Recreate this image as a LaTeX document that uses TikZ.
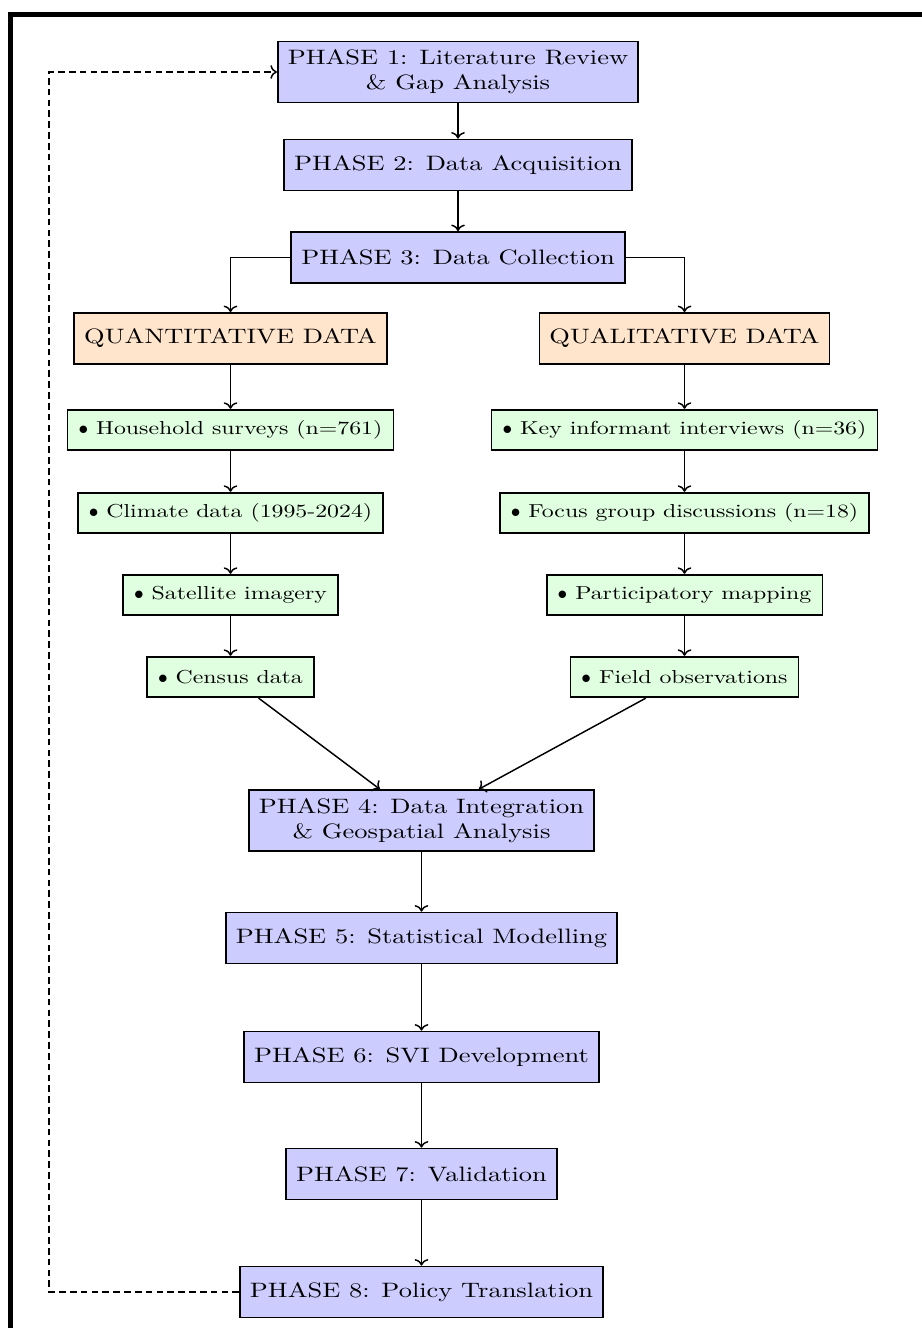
\documentclass[tikz,border=0pt]{standalone}
\usepackage{fontspec}
\setmainfont{lmroman10-regular.otf}[FakeStretch=1.27]
\usetikzlibrary{arrows.meta}
\begin{document}
\begin{tikzpicture}[x=0.48pt,y=-0.48pt,
  phase/.style={draw=black, line width=0.8pt, fill=blue!20, align=center, inner xsep=4.8pt, inner ysep=4pt, minimum height=24.5pt},
  datahead/.style={draw=black, line width=0.8pt, fill=orange!20, inner xsep=4.8pt, minimum height=24.5pt},
  itembox/.style={draw=black, line width=0.8pt, fill=green!12, font=\small, inner xsep=5.3pt, minimum height=19.5pt},
  conn/.style={->, line width=0.7pt},
  feedback/.style={->, line width=0.7pt, dash pattern=on 3.2pt off 2pt},
  frameline/.style={line width=2.4pt}
]
\useasboundingbox (0,0) rectangle (922,1328);
\draw[frameline] (10.5,1328) -- (10.5,15) -- (922,15);

\node[phase] (p1) at (458,72) {PHASE 1: Literature Review\\ \& Gap Analysis};
\node[phase] (p2) at (458,165) {PHASE 2: Data Acquisition};
\node[phase] (p3) at (458,257.5) {PHASE 3: Data Collection};

\node[datahead] (quant) at (230.5,338.5) {QUANTITATIVE DATA};
\node[datahead] (qual) at (684.5,338.5) {QUALITATIVE DATA};

\node[itembox] (q1) at (230.5,430) {$\bullet$ Household surveys (n=761)};
\node[itembox] (q2) at (230.5,513) {$\bullet$ Climate data (1995-2024)};
\node[itembox] (q3) at (230.5,595) {$\bullet$ Satellite imagery};
\node[itembox] (q4) at (230.5,677) {$\bullet$ Census data};

\node[itembox] (l1) at (684.5,430) {$\bullet$ Key informant interviews (n=36)};
\node[itembox] (l2) at (684.5,513) {$\bullet$ Focus group discussions (n=18)};
\node[itembox] (l3) at (684.5,595) {$\bullet$ Participatory mapping};
\node[itembox] (l4) at (684.5,677) {$\bullet$ Field observations};

\node[phase] (p4) at (421.5,820.5) {PHASE 4: Data Integration\\ \& Geospatial Analysis};
\node[phase] (p5) at (421.5,938) {PHASE 5: Statistical Modelling};
\node[phase] (p6) at (421.5,1057) {PHASE 6: SVI Development};
\node[phase] (p7) at (421.5,1174) {PHASE 7: Validation};
\node[phase] (p8) at (421.5,1292) {PHASE 8: Policy Translation};

\coordinate (fb) at (49,700);

\draw[conn] (p1) -- (p2);
\draw[conn] (p2) -- (p3);
\draw[conn] (p3.west) -| (quant.north);
\draw[conn] (p3.east) -| (qual.north);
\draw[conn] (quant) -- (q1);
\draw[conn] (q1) -- (q2);
\draw[conn] (q2) -- (q3);
\draw[conn] (q3) -- (q4);
\draw[conn] (qual) -- (l1);
\draw[conn] (l1) -- (l2);
\draw[conn] (l2) -- (l3);
\draw[conn] (l3) -- (l4);
\draw[conn] (q4) -- (p4);
\draw[conn] (l4) -- (p4);
\draw[conn] (p4) -- (p5);
\draw[conn] (p5) -- (p6);
\draw[conn] (p6) -- (p7);
\draw[conn] (p7) -- (p8);
\draw[feedback] (p8.west) -| (fb) |- (p1.west);
\end{tikzpicture}
\end{document}
